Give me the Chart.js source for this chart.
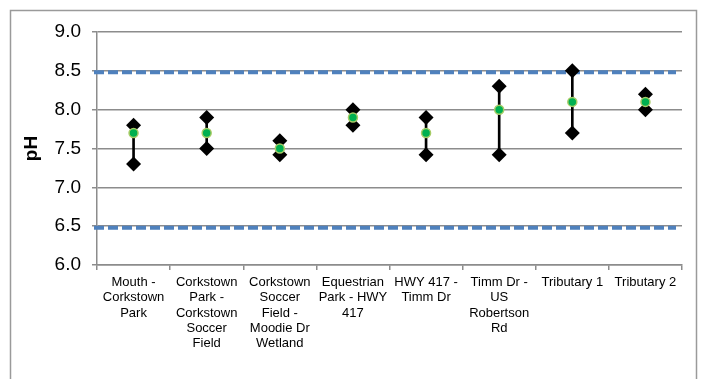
<!DOCTYPE html>
<html>
<head>
<meta charset="utf-8">
<script src="https://cdn.jsdelivr.net/npm/chart.js@4/dist/chart.umd.min.js"></script>
<style>
  html, body { margin: 0; padding: 0; background: #fff; }
  #wrap { position: relative; width: 702px; height: 379px; }
</style>
</head>
<body>
<div id="wrap"><canvas id="chart" width="702" height="379"></canvas></div>
<script>
const sites = [
    ['Mouth -', 'Corkstown', 'Park'],
    ['Corkstown', 'Park -', 'Corkstown', 'Soccer', 'Field'],
    ['Corkstown', 'Soccer', 'Field -', 'Moodie Dr', 'Wetland'],
    ['Equestrian', 'Park - HWY', '417'],
    ['HWY 417 -', 'Timm Dr'],
    ['Timm Dr -', 'US', 'Robertson', 'Rd'],
    ['Tributary 1'],
    ['Tributary 2']
];
const phMax = [7.8, 7.9, 7.6, 8.0, 7.9, 8.3, 8.5, 8.2];
const phMin = [7.3, 7.5, 7.42, 7.8, 7.42, 7.42, 7.7, 8.0];
const phMean = [7.7, 7.7, 7.5, 7.9, 7.7, 8.0, 8.1, 8.1];
const guideLimits = [8.5, 6.5];

// dashed guideline limits and outer frame
const extrasPlugin = {
    id: 'extras',
    beforeDatasetsDraw(chart) {
        const ctx = chart.ctx;
        const area = chart.chartArea;
        const y = chart.scales.y;
        ctx.save();
        ctx.strokeStyle = '#4F81BD';
        ctx.lineWidth = 4;
        ctx.setLineDash([10, 4]);
        guideLimits.forEach(v => {
            const py = y.getPixelForValue(v) + 1.5;
            ctx.beginPath();
            ctx.moveTo(area.left - 3, py);
            ctx.lineTo(area.right - 6, py);
            ctx.stroke();
        });
        ctx.restore();
    },
    afterDraw(chart) {
        const ctx = chart.ctx;
        ctx.save();
        ctx.strokeStyle = '#9a9a9a';
        ctx.lineWidth = 1.5;
        ctx.strokeRect(10.5, 10.5, 686, 420);
        ctx.restore();
    }
};

const ctx = document.getElementById('chart').getContext('2d');
new Chart(ctx, {
    type: 'bar',
    data: {
        labels: sites,
        datasets: [
            {
                type: 'line',
                label: 'Mean',
                data: phMean,
                showLine: false,
                pointStyle: 'circle',
                pointRadius: 4.5,
                pointBackgroundColor: '#00B050',
                pointBorderColor: '#A6CC66',
                pointBorderWidth: 1.5,
                order: 0
            },
            {
                type: 'line',
                label: 'Max',
                data: phMax,
                showLine: false,
                pointStyle: 'rectRot',
                pointRadius: 7.5,
                pointBackgroundColor: '#000',
                pointBorderColor: '#000',
                pointBorderWidth: 0,
                order: 1
            },
            {
                type: 'line',
                label: 'Min',
                data: phMin,
                showLine: false,
                pointStyle: 'rectRot',
                pointRadius: 7.5,
                pointBackgroundColor: '#000',
                pointBorderColor: '#000',
                pointBorderWidth: 0,
                order: 1
            },
            {
                label: 'Range',
                data: phMin.map((m, i) => [m, phMax[i]]),
                backgroundColor: '#000',
                barThickness: 2,
                order: 2
            }
        ]
    },
    options: {
        responsive: false,
        animation: false,
        layout: { padding: { left: 0, right: 20, top: 32, bottom: 0 } },
        plugins: {
            legend: { display: false },
            tooltip: { enabled: false }
        },
        scales: {
            x: {
                offset: true,
                grid: {
                    offset: true,
                    drawOnChartArea: false,
                    color: '#8c8c8c',
                    lineWidth: 1.5,
                    tickLength: 5
                },
                border: { color: '#8c8c8c', width: 1.5 },
                ticks: {
                    maxRotation: 0,
                    autoSkip: false,
                    padding: 5,
                    color: '#000',
                    font: { family: 'Arial, "Liberation Sans", sans-serif', size: 13, lineHeight: 1.17 }
                },
                afterFit(scale) { scale.height = 114; }
            },
            y: {
                min: 6.0,
                max: 9.0,
                ticks: {
                    stepSize: 0.5,
                    padding: 11,
                    color: '#000',
                    font: { family: 'Arial, "Liberation Sans", sans-serif', size: 19 },
                    callback: v => v.toFixed(1)
                },
                grid: { color: '#8c8c8c', lineWidth: 1.5, tickLength: 5 },
                border: { color: '#8c8c8c', width: 1.5 },
                title: {
                    display: true,
                    text: 'pH',
                    color: '#000',
                    padding: { top: 20, bottom: 0 },
                    font: { family: 'Arial, "Liberation Sans", sans-serif', size: 19, weight: 'bold' }
                },
                afterFit(scale) { scale.width = 97; }
            }
        }
    },
    plugins: [extrasPlugin]
});
</script>
</body>
</html>
